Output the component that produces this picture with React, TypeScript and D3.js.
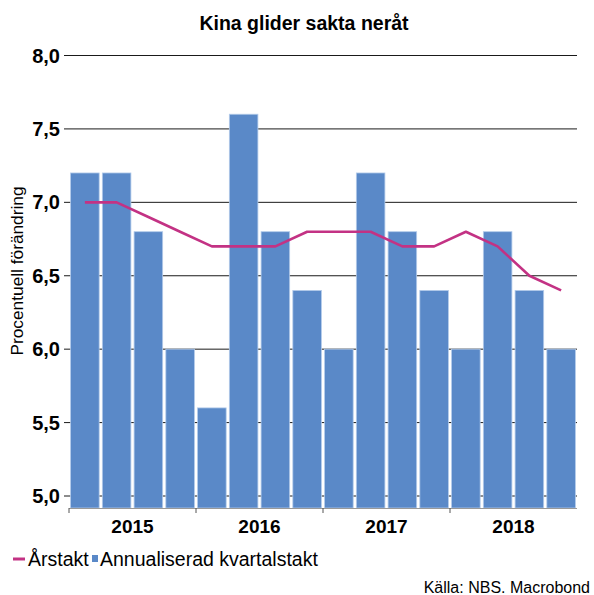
import React from "react";
import * as d3 from "d3";

const quarters = [
  "2015Q1", "2015Q2", "2015Q3", "2015Q4",
  "2016Q1", "2016Q2", "2016Q3", "2016Q4",
  "2017Q1", "2017Q2", "2017Q3", "2017Q4",
  "2018Q1", "2018Q2", "2018Q3", "2018Q4",
];
const years = ["2015", "2016", "2017", "2018"];
// annualiserad kvartalstakt
const kvartal = [7.2, 7.2, 6.8, 6.0, 5.6, 7.6, 6.8, 6.4, 6.0, 7.2, 6.8, 6.4, 6.0, 6.8, 6.4, 6.0];
// årstakt
const arstakt = [7.0, 7.0, 6.9, 6.8, 6.7, 6.7, 6.7, 6.8, 6.8, 6.8, 6.7, 6.7, 6.8, 6.7, 6.5, 6.4];
const yTicks = [5.0, 5.5, 6.0, 6.5, 7.0, 7.5, 8.0];

const width = 594;
const height = 595;
const left = 69, right = 577, top = 55.5, bottom = 508;

const App = () => {
  const x = d3.scaleBand().domain(quarters).range([left, right]).paddingInner(0.1).paddingOuter(0.05);
  const xc = d3.scaleBand().domain(quarters).range([left, right]);
  const xYear = d3.scaleBand().domain(years).range([left, right]);
  const y = d3.scaleLinear().domain([5.0, 8.0]).range([496, top]);
  const fmt = (v: number) => d3.format(".1f")(v).replace(".", ",");

  const line = d3.line<number>()
    .x((d, i) => xc(quarters[i])! + xc.bandwidth() / 2)
    .y(d => y(d));

  const font = "Liberation Sans, Arial, sans-serif";

  return (
    <svg width={width} height={height} style={{ position: "absolute", left: 0, top: 0 }} fontFamily={font}>
      <text x={304} y={30} textAnchor="middle" fontWeight="bold" fontSize={19.5}>Kina glider sakta neråt</text>

      {/* grid */}
      {yTicks.map(t => (
        <g key={t}>
          <line x1={64} x2={right} y1={y(t)} y2={y(t)} stroke="#1a1a1a" strokeWidth={1} />
          <text x={60} y={y(t) + 7} textAnchor="end" fontWeight="bold" fontSize={20}>{fmt(t)}</text>
        </g>
      ))}

      {/* bars */}
      {kvartal.map((v, i) => (
        <rect key={i}
          x={x(quarters[i])} y={y(v)} width={x.bandwidth()} height={bottom - y(v)}
          fill="#5a89c8" stroke="#b3cbea" strokeWidth={0.8} />
      ))}

      {/* x axis */}
      <line x1={left} x2={right} y1={bottom + 0.5} y2={bottom + 0.5} stroke="#999" strokeWidth={1} />
      {years.map(yr => (
        <line key={yr} x1={xYear(yr)} x2={xYear(yr)} y1={bottom} y2={bottom + 5} stroke="#555" strokeWidth={1} />
      ))}
      {years.map(yr => (
        <text key={yr} x={xYear(yr)! + xYear.bandwidth() / 2} y={533} textAnchor="middle" fontWeight="bold" fontSize={19}>{yr}</text>
      ))}

      {/* line */}
      <path d={line(arstakt)!} fill="none" stroke="#c33284" strokeWidth={2.6} strokeLinejoin="round" />

      {/* y label */}
      <text transform="translate(23,271) rotate(-90)" textAnchor="middle" fontSize={17.3}>Procentuell förändring</text>

      {/* legend */}
      <line x1={13} x2={25} y1={559} y2={559} stroke="#c33284" strokeWidth={3} />
      <text x={28} y={566} fontSize={19.5}>Årstakt</text>
      <rect x={92} y={555} width={6} height={7} fill="#5a89c8" />
      <text x={100} y={566} fontSize={19.5}>Annualiserad kvartalstakt</text>

      <text x={590} y={593} textAnchor="end" fontSize={16}>Källa: NBS. Macrobond</text>
    </svg>
  );
};

export default App;
